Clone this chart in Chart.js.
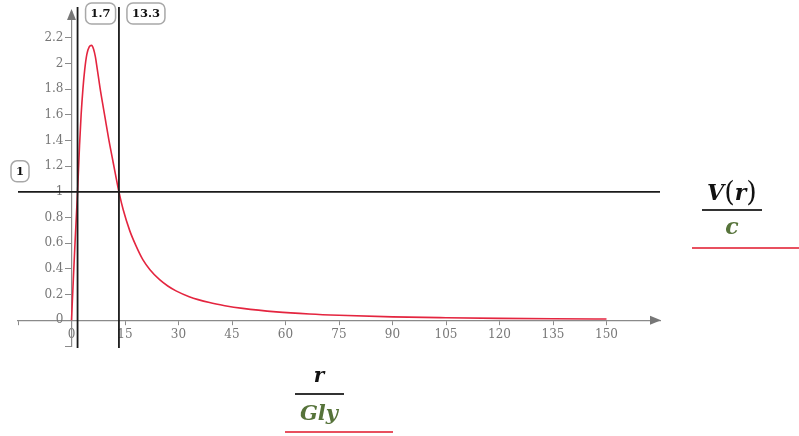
<!DOCTYPE html>
<html>
<head>
<meta charset="utf-8">
<script src="https://cdn.jsdelivr.net/npm/chart.js@4.4.1/dist/chart.umd.min.js"></script>
<style>
  body { margin: 0; background: #fff; }
  #wrap { position: relative; width: 799px; height: 436px; }
  .t { position: absolute; font-family: "DejaVu Serif", serif; font-weight: bold; font-style: italic; line-height: 1; white-space: nowrap; text-align: center; }
  .p { font-style: normal; font-weight: normal; font-size: 27px; vertical-align: -1px; }
  .bar { position: absolute; height: 2px; background: #333; }
  .red { position: absolute; height: 2px; background: #e8505f; }
</style>
</head>
<body>
<div id="wrap">
  <canvas id="chart" width="799" height="436"></canvas>
  <div class="t" style="left:697px;top:178px;font-size:22px;color:#111;width:70px">V<span class="p">(</span>r<span class="p">)</span></div>
  <div class="bar" style="left:702px;top:209px;width:60px"></div>
  <div class="t" style="left:697px;top:215px;font-size:22px;color:#56733a;width:70px">c</div>
  <div class="red" style="left:692px;top:247px;width:107px"></div>
  <div class="t" style="left:294px;top:365px;font-size:20px;color:#111;width:50px">r</div>
  <div class="bar" style="left:295px;top:393px;width:49px"></div>
  <div class="t" style="left:289px;top:402px;font-size:21px;color:#56733a;width:60px">Gly</div>
  <div class="red" style="left:285px;top:431px;width:108px"></div>
</div>
<script>
// V(r)/c against r (Gly)
const rValues = [0, 0.5, 1.0, 1.7, 2.25, 2.7, 3.2, 3.7, 4.3, 5.0, 5.6, 6.2, 6.7, 7.2, 8.0, 8.9, 9.7, 10.5, 11.4, 12.3, 13.3,
                 14.5, 16.3, 18, 20, 22, 24.7, 27, 29.3, 33, 38.7, 43, 48, 57.4, 66.7, 75, 90, 105, 120, 135, 150];
const vValues = [0, 0.31, 0.61, 1.0, 1.36, 1.60, 1.80, 1.95, 2.07, 2.13, 2.14, 2.11, 2.05, 1.96, 1.81, 1.66, 1.53, 1.40, 1.27, 1.14, 1.0,
                 0.86, 0.70, 0.585, 0.472, 0.394, 0.316, 0.267, 0.229, 0.184, 0.138, 0.114, 0.093, 0.066, 0.049, 0.039, 0.027, 0.020, 0.015, 0.012, 0.010];

const xTicks = [-15, 0, 15, 30, 45, 60, 75, 90, 105, 120, 135, 150];
const yTicks = [-0.2, 0, 0.2, 0.4, 0.6, 0.8, 1, 1.2, 1.4, 1.6, 1.8, 2, 2.2];
const xMarkers = [1.7, 13.3];
const yMarkers = [1];

const tickFont = { family: "DejaVu Serif", size: 12 };
const axisGrey = "#8a8a8a";

function roundBox(ctx, x, y, w, h, r) {
    ctx.beginPath();
    ctx.moveTo(x + r, y);
    ctx.arcTo(x + w, y, x + w, y + h, r);
    ctx.arcTo(x + w, y + h, x, y + h, r);
    ctx.arcTo(x, y + h, x, y, r);
    ctx.arcTo(x, y, x + w, y, r);
    ctx.closePath();
    ctx.fillStyle = "#fff";
    ctx.fill();
    ctx.stroke();
}

function markerLabel(ctx, text, left, top) {
    ctx.font = "bold 11.5px 'DejaVu Serif'";
    const w = ctx.measureText(text).width + 10;
    ctx.strokeStyle = "#a8a8a8";
    ctx.lineWidth = 1.5;
    roundBox(ctx, left, top, w, 21, 6);
    ctx.fillStyle = "#111";
    ctx.textAlign = "center";
    ctx.textBaseline = "middle";
    ctx.fillText(text, left + w / 2, top + 11);
}

const overlay = {
    id: "overlay",
    beforeDraw(chart) {
        // y labels sit right on a value-positioned axis; push them left of the ticks
        const items = chart.scales.y.getLabelItems();
        if (!items._moved) {
            items.forEach(it => { it.options.translation[0] -= 8; });
            items._moved = true;
        }
    },
    afterDraw(chart) {
        const { ctx, chartArea, scales: { x, y } } = chart;
        ctx.save();
        // axis arrows
        ctx.fillStyle = "#777";
        const x0 = x.getPixelForValue(0), y0 = y.getPixelForValue(0);
        ctx.beginPath();
        ctx.moveTo(x0, chartArea.top - 3);
        ctx.lineTo(x0 - 4.5, chartArea.top + 8);
        ctx.lineTo(x0 + 4.5, chartArea.top + 8);
        ctx.fill();
        ctx.beginPath();
        ctx.moveTo(chartArea.right + 1, y0);
        ctx.lineTo(chartArea.right - 10, y0 - 4.5);
        ctx.lineTo(chartArea.right - 10, y0 + 4.5);
        ctx.fill();

        // marker lines
        ctx.strokeStyle = "#1a1a1a";
        ctx.lineWidth = 1.8;
        xMarkers.forEach(m => {
            const px = x.getPixelForValue(m);
            ctx.beginPath();
            ctx.moveTo(px, chartArea.top - 5);
            ctx.lineTo(px, chartArea.bottom + 2);
            ctx.stroke();
        });
        yMarkers.forEach(m => {
            const py = y.getPixelForValue(m);
            ctx.beginPath();
            ctx.moveTo(chartArea.left, py);
            ctx.lineTo(chartArea.right, py);
            ctx.stroke();
        });

        xMarkers.forEach(m => {
            markerLabel(ctx, String(m), x.getPixelForValue(m) + 8, 3);
        });
        yMarkers.forEach(m => {
            markerLabel(ctx, String(m), 11, y.getPixelForValue(m) - 31);
        });
        ctx.restore();
    }
};

new Chart(document.getElementById("chart"), {
    type: "scatter",
    data: {
        datasets: [{
            data: rValues.map((r, i) => ({ x: r, y: vValues[i] })),
            showLine: true,
            borderColor: "#e4253f",
            borderWidth: 1.6,
            pointRadius: 0,
            cubicInterpolationMode: "monotone",
            fill: false
        }]
    },
    options: {
        responsive: false,
        animation: false,
        devicePixelRatio: 1,
        layout: { padding: { left: 18, right: 139, top: 12, bottom: 90 } },
        plugins: { legend: { display: false }, tooltip: { enabled: false } },
        scales: {
            x: {
                type: "linear",
                min: -15,
                max: 165,
                position: { y: 0 },
                afterBuildTicks: s => { s.ticks = xTicks.map(v => ({ value: v })); },
                ticks: {
                    color: "#777",
                    font: tickFont,
                    padding: 3,
                    autoSkip: false,
                    maxRotation: 0,
                    callback: v => (v < 0 ? "" : v)
                },
                grid: { drawOnChartArea: false, tickLength: 4, color: axisGrey },
                border: { display: true, color: axisGrey, width: 1.2 }
            },
            y: {
                type: "linear",
                min: -0.2,
                max: 2.4,
                position: { x: 0 },
                afterBuildTicks: s => { s.ticks = yTicks.map(v => ({ value: v })); },
                ticks: {
                    color: "#777",
                    font: tickFont,
                    padding: 2,
                    autoSkip: false,
                    callback: v => (v < 0 ? "" : Math.round(v * 10) / 10)
                },
                grid: { drawOnChartArea: false, tickLength: 6, color: axisGrey },
                border: { display: true, color: axisGrey, width: 1.2 }
            }
        }
    },
    plugins: [overlay]
});
</script>
</body>
</html>
